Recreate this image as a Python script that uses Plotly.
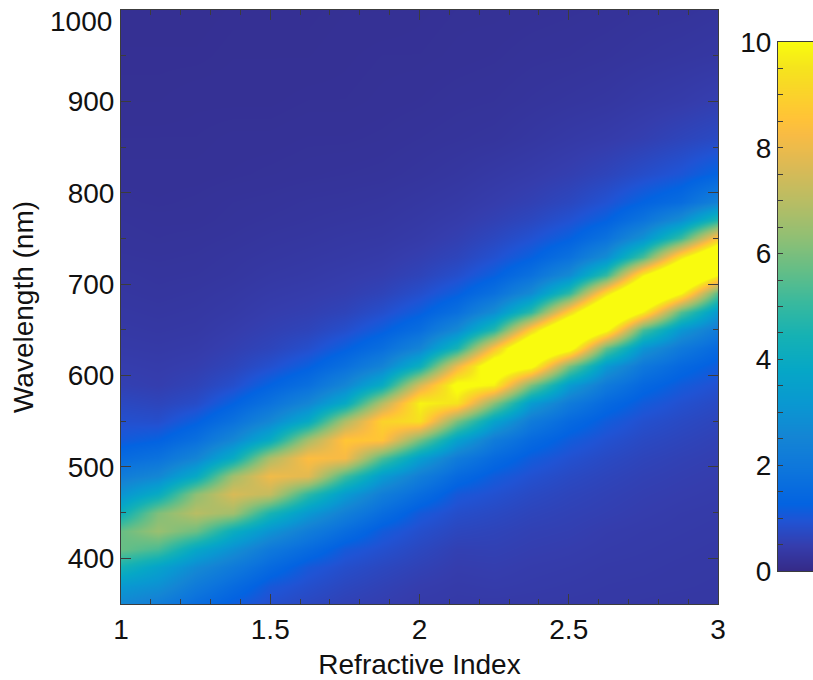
import numpy as np
import plotly.graph_objects as go

refractive_index = [1.0, 1.125, 1.25, 1.375, 1.5, 1.625, 1.75, 1.875, 2.0,
                    2.125, 2.25, 2.375, 2.5, 2.625, 2.75, 2.875, 3.0]
wavelength = [350, 370, 390, 410, 430, 450, 470, 490, 510, 530, 550, 570, 590, 610,
              630, 650, 670, 690, 710, 730, 750, 770, 790, 820, 860, 900, 950, 1000]

c100 = [2.6,3.2,4.4,5.75,5.75,4.2,3.05,2.2,1.55,1.1,.88,.72,.55,.48,.42,.38,.35,.32,.3,.27,.25,.24,.22,.2,.19,.17,.16,.15]
c112 = [2.2,2.9,3.6,5.3,6.47,6.1,4.0,2.6,1.8,1.25,.85,.65,.5,.45,.4,.36,.33,.3,.28,.26,.24,.23,.21,.2,.19,.17,.16,.15]
c125 = [1.6,2.1,2.7,3.8,5.8,7.0,6.3,3.9,2.5,1.7,1.2,.8,.61,.5,.43,.38,.35,.32,.29,.27,.25,.23,.22,.2,.19,.18,.16,.15]
c137 = [1.15,1.55,2.1,2.9,4.1,6.6,7.6,6.6,4.0,2.6,1.75,1.25,.85,.64,.53,.46,.4,.36,.32,.3,.27,.25,.24,.21,.2,.18,.17,.16]
c150 = [.85,1.05,1.5,2.05,3.0,4.5,7.2,8.1,6.8,4.0,2.6,1.8,1.28,.88,.65,.55,.48,.42,.37,.33,.3,.27,.25,.22,.2,.18,.17,.16]
c162 = [.7,.85,1.05,1.55,2.2,3.2,4.9,7.8,8.4,6.7,3.9,2.55,1.7,1.2,.85,.64,.53,.46,.4,.36,.32,.29,.27,.23,.21,.19,.17,.16]
c175 = [.57,.69,.84,1.07,1.6,2.3,3.3,5.2,8.2,8.65,6.8,3.9,2.55,1.7,1.2,.85,.63,.51,.45,.39,.35,.31,.28,.24,.21,.19,.18,.17]
c187 = [.5,.58,.7,.88,1.1,1.6,2.25,3.3,5.4,8.6,9.0,6.95,4.0,2.45,1.65,1.18,.85,.62,.5,.43,.37,.33,.3,.25,.22,.2,.19,.17]
c200 = [.42,.48,.58,.7,.85,1.07,1.6,2.25,3.4,5.9,9.4,9.85,7.6,4.2,2.5,1.65,1.18,.85,.63,.52,.43,.38,.34,.28,.24,.21,.19,.18]
c212 = [.4,.43,.48,.55,.68,.83,1.05,1.5,2.15,3.5,6.0,9.5,10.3,8.0,4.5,2.7,1.7,1.18,.85,.65,.53,.45,.39,.32,.26,.23,.2,.19]
c225 = [.4,.45,.5,.56,.63,.74,.9,1.12,1.52,2.15,3.6,6.2,9.8,11.2,8.5,4.8,2.8,1.72,1.2,.9,.7,.56,.47,.38,.28,.24,.21,.19]
c237 = [.39,.43,.46,.51,.56,.64,.75,.9,1.12,1.5,2.13,3.3,6.0,10.3,12.4,9.0,4.9,2.72,1.75,1.22,.92,.7,.56,.44,.33,.27,.23,.2]
c250 = [.38,.41,.44,.48,.53,.58,.65,.75,.9,1.12,1.5,2.13,3.3,6.0,10.6,12.9,9.0,4.9,2.72,1.75,1.22,.92,.7,.52,.39,.3,.24,.21]
c262 = [.37,.39,.41,.44,.47,.53,.58,.65,.75,.9,1.12,1.48,2.09,3.2,5.7,10.2,12.95,9.3,5.0,2.79,1.78,1.24,.93,.64,.44,.33,.26,.22]
c275 = [.36,.38,.4,.42,.44,.48,.52,.57,.64,.74,.88,1.1,1.43,2.0,3.05,5.3,9.8,13,9.8,5.3,2.95,1.86,1.28,.82,.52,.39,.29,.24]
c287 = [.35,.37,.38,.4,.42,.44,.48,.52,.57,.65,.75,.89,1.1,1.45,2.05,3.1,5.5,10,13,9.5,5.1,2.85,1.6,1.0,.64,.44,.32,.25]
c300 = [.34,.36,.37,.38,.4,.42,.45,.48,.52,.57,.65,.75,.9,1.12,1.48,2.09,3.15,5.5,9.9,12.5,8.7,4.7,2.4,1.3,.75,.52,.35,.28]

columns = [c100, c112, c125, c137, c150, c162, c175, c187, c200,
           c212, c225, c237, c250, c262, c275, c287, c300]
z = np.array(columns).T.tolist()

colorbar_levels = [0, 1, 2, 3, 4, 5, 6, 7, 8, 9, 10]
x_ticks = [1, 1.5, 2, 2.5, 3]
y_ticks = [400, 500, 600, 700, 800, 900, 1000]
y_tick_text = ["400", "500", "600", "700", "800", "900", ""]
cbar_ticks = [0, 2, 4, 6, 8, 10]

parula = [
    [0.0, "rgb(53,42,135)"], [0.048, "rgb(53,61,173)"], [0.095, "rgb(32,83,212)"],
    [0.127, "rgb(3,99,225)"], [0.19, "rgb(13,117,220)"], [0.254, "rgb(20,133,212)"],
    [0.317, "rgb(9,152,209)"], [0.381, "rgb(6,167,198)"], [0.444, "rgb(21,177,180)"],
    [0.508, "rgb(56,185,158)"], [0.571, "rgb(101,190,134)"], [0.635, "rgb(146,191,115)"],
    [0.698, "rgb(183,189,100)"], [0.762, "rgb(217,186,86)"], [0.825, "rgb(248,187,68)"],
    [0.857, "rgb(255,195,55)"], [0.889, "rgb(252,206,46)"], [0.952, "rgb(245,228,29)"],
    [1.0, "rgb(249,251,14)"],
]

W, H = 813, 680
AXC = "#3c3c3c"
TXT = "#111111"
FONT = "Liberation Sans, Arial, sans-serif"

fig = go.Figure()
fig.add_trace(go.Heatmap(x=refractive_index, y=wavelength, z=z, zmin=0, zmax=10,
                         colorscale=parula, zsmooth="best", showscale=False,
                         xaxis="x", yaxis="y"))
fig.add_trace(go.Heatmap(x=[0, 1], y=colorbar_levels, z=[[v, v] for v in colorbar_levels],
                         zmin=0, zmax=10, colorscale=parula, zsmooth="best",
                         showscale=False, xaxis="x2", yaxis="y2"))

fig.update_layout(
    width=W, height=H, margin=dict(l=0, r=0, t=0, b=0),
    paper_bgcolor="white", plot_bgcolor="white", showlegend=False,
    font=dict(family=FONT, size=28, color=TXT),
    xaxis=dict(domain=[121 / W, 718 / W], range=[1, 3], tickmode="array", tickvals=x_ticks,
               ticktext=["1", "1.5", "2", "2.5", "3"],
               ticks="inside", ticklen=10, tickcolor=AXC, tickwidth=1,
               minor=dict(ticks="inside", ticklen=5, dtick=0.1, tick0=1, tickcolor=AXC, tickwidth=1),
               showline=True, linecolor=AXC, linewidth=1, mirror="ticks", showgrid=False, zeroline=False,
               title=dict(text="Refractive Index", standoff=14, font=dict(size=28)),
               automargin=False),
    yaxis=dict(domain=[(H - 604) / H, (H - 10) / H], range=[350, 1000], tickmode="array",
               tickvals=y_ticks, ticktext=y_tick_text,
               ticks="inside", ticklen=10, tickcolor=AXC, tickwidth=1,
               minor=dict(ticks="inside", ticklen=5, dtick=50, tick0=350, tickcolor=AXC, tickwidth=1),
               showline=True, linecolor=AXC, linewidth=1, mirror="ticks", showgrid=False, zeroline=False,
               title=dict(text="Wavelength (nm)", standoff=25, font=dict(size=28)),
               automargin=False),
    xaxis2=dict(domain=[778 / W, 1], range=[0, 1], anchor="y2", showticklabels=False, ticks="",
                showline=True, linecolor=AXC, linewidth=1, mirror=True, showgrid=False, zeroline=False,
                automargin=False),
    yaxis2=dict(domain=[(H - 571) / H, (H - 42) / H], range=[0, 10], anchor="x2", tickmode="array",
                tickvals=cbar_ticks, ticks="inside", ticklen=5, tickcolor=AXC, tickwidth=1,
                minor=dict(ticks="inside", ticklen=5, dtick=0.5, tick0=0, tickcolor=AXC, tickwidth=1),
                showline=True, linecolor=AXC, linewidth=1, showgrid=False, zeroline=False,
                automargin=False),
    annotations=[dict(text="1000", xref="paper", yref="paper", x=114 / W, y=(H - 21) / H,
                      xanchor="right", yanchor="middle", showarrow=False,
                      font=dict(size=28, color=TXT))],
)

fig.write_html("out.html", config={"displayModeBar": False},
               post_script="document.body.style.margin='0';document.body.style.overflow='hidden';")
